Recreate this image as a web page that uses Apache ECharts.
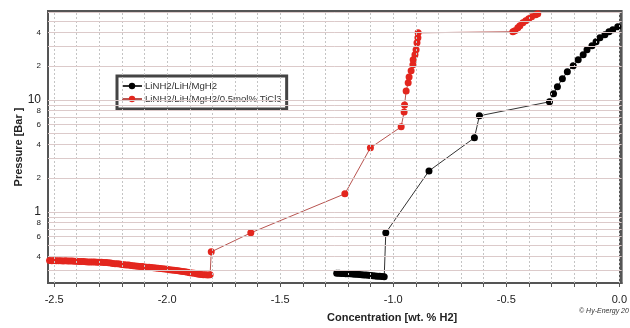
<!DOCTYPE html>
<html><head><meta charset="utf-8">
<script src="https://cdn.jsdelivr.net/npm/echarts@6/dist/echarts.min.js"></script>
<style>html,body{margin:0;padding:0;background:#fff}#c{width:630px;height:328px}</style>
</head><body><div id="c"></div>
<script>
// ---- data ----
const blackName = 'LiNH2/LiH/MgH2';
const redName = 'LiNH2/LiH/MgH2/0.5mol% TiCl3';
const blackConc = [-1.25,-1.24,-1.23,-1.22,-1.21,-1.20,-1.19,-1.18,-1.17,-1.16,-1.15,-1.14,-1.13,-1.12,-1.11,-1.10,-1.09,-1.08,-1.07,-1.06,-1.05,-1.04,
  -1.033,-0.842,-0.641,-0.619,-0.309,-0.291,-0.274,-0.252,-0.230,-0.204,-0.182,-0.160,-0.143,-0.121,-0.103,-0.086,-0.064,-0.046,-0.029,-0.007];
const blackPress = [0.283,0.283,0.282,0.282,0.281,0.280,0.280,0.279,0.278,0.277,0.276,0.275,0.274,0.273,0.272,0.270,0.269,0.268,0.267,0.266,0.265,0.264,
  0.65,2.32,4.58,7.2,9.6,11.3,13.1,15.4,17.8,20.1,22.8,25.2,27.9,30.4,33.0,35.8,38.0,40.5,42.2,44.9];
const redConc = [-2.52,-2.51,-2.50,-2.49,-2.48,-2.47,-2.46,-2.45,-2.44,-2.43,-2.42,-2.41,-2.40,-2.39,-2.38,-2.37,-2.36,-2.35,-2.34,-2.33,-2.32,-2.31,-2.30,-2.29,-2.28,-2.27,-2.26,-2.25,-2.24,-2.23,-2.22,-2.21,-2.20,-2.19,-2.18,-2.17,-2.16,-2.15,-2.14,-2.13,-2.12,-2.11,-2.10,-2.09,-2.08,-2.07,-2.06,-2.05,-2.04,-2.03,-2.02,-2.01,-2.00,-1.99,-1.98,-1.97,-1.96,-1.95,-1.94,-1.93,-1.92,-1.91,-1.90,-1.89,-1.88,-1.87,-1.86,-1.85,-1.84,-1.83,-1.82,-1.81,
  -1.805,-1.630,-1.214,-1.101,-0.965,-0.952,-0.950,-0.943,-0.934,-0.930,-0.921,-0.913,-0.912,-0.904,-0.899,-0.895,-0.891,-0.890,
  -0.471,-0.462,-0.449,-0.440,-0.427,-0.414,-0.401,-0.388,-0.370,-0.361];
const redPress = [0.368,0.367,0.368,0.366,0.367,0.366,0.365,0.366,0.365,0.365,0.364,0.363,0.363,0.361,0.361,0.360,0.359,0.358,0.358,0.357,0.357,0.356,0.355,0.355,0.354,0.354,0.352,0.349,0.347,0.345,0.344,0.342,0.340,0.338,0.336,0.335,0.333,0.331,0.329,0.327,0.326,0.325,0.323,0.321,0.320,0.319,0.317,0.316,0.314,0.312,0.311,0.309,0.307,0.305,0.303,0.301,0.300,0.298,0.296,0.294,0.292,0.289,0.287,0.285,0.283,0.280,0.277,0.276,0.275,0.275,0.274,0.275,
  0.44,0.65,1.45,3.73,5.74,7.8,9.0,12.0,14.2,16.0,18.2,20.5,22.8,25.2,27.9,32.3,35.8,39.6,
  40.5,41.3,44.0,45.8,48.7,50.7,52.9,55.1,57.4,58.6];
const xLabelValues = [-2.5,-2.0,-1.5,-1.0,-0.5,0.0];
const xTickValues = [-2.5,-2.4,-2.3,-2.2,-2.1,-2.0,-1.9,-1.8,-1.7,-1.6,-1.5,-1.4,-1.3,-1.2,-1.1,-1.0,-0.9,-0.8,-0.7,-0.6,-0.5,-0.4,-0.3,-0.2,-0.1,0.0];
const yLabelValues = [0.4,0.6,0.8,1,2,4,6,8,10,20,40];
const yLabelTexts  = ['4','6','8','1','2','4','6','8','10','2','4'];
const yTickValues = [0.3,0.4,0.5,0.6,0.7,0.8,0.9,1,2,3,4,5,6,7,8,9,10,20,30,40,50,60];

const zip = (a,b) => a.map((v,i)=>[v,b[i]]);
const chart = echarts.init(document.getElementById('c'), null, {renderer:'canvas'});
const FONT = '"Liberation Sans", Arial, sans-serif';

chart.setOption({
  animation:false,
  backgroundColor:'#fff',
  grid:{left:48,right:2,top:11,bottom:45,show:true,borderColor:'#555',borderWidth:2,backgroundColor:'transparent'},
  legend:{
    data:[blackName, redName], orient:'vertical', left:117, top:76,
    itemWidth:20, itemHeight:8, itemGap:3, padding:[5,5,5,4],
    backgroundColor:'#fff', borderColor:'#444', borderWidth:3, borderRadius:0,
    textStyle:{fontFamily:FONT,fontSize:9.6,color:'#333',padding:[0,0,0,-2]}
  },
  xAxis:{
    type:'value', min:-2.527, max:0.01,
    axisLine:{show:true,lineStyle:{color:'#555',width:2}},
    axisTick:{show:true,customValues:xTickValues,length:4,lineStyle:{color:'#555'}},
    axisLabel:{customValues:xLabelValues,margin:11,fontFamily:FONT,fontSize:11,color:'#222',
      formatter:v=>v.toFixed(1)},
    splitLine:{show:false}
  },
  yAxis:{
    type:'log', logBase:10, min:0.232, max:62,
    name:'Pressure [Bar ]', nameLocation:'middle', nameGap:24, nameMoveOverlap:false,
    nameTextStyle:{fontFamily:FONT,fontSize:11,fontWeight:'bold',color:'#222'},
    axisLine:{show:true,lineStyle:{color:'#555',width:2}},
    axisTick:{show:true,customValues:yTickValues,length:4,lineStyle:{color:'#555'}},
    axisLabel:{customValues:yLabelValues,margin:7,fontFamily:FONT,color:'#222',
      formatter:function(v){
        let bi=0,bd=1e9;
        yLabelValues.forEach((u,i)=>{const d=Math.abs(Math.log(u)-Math.log(v)); if(d<bd){bd=d;bi=i;}});
        const t=yLabelTexts[bi];
        return (t==='10'||t==='1') ? '{b|'+t+'}' : '{s|'+t+'}';
      },
      rich:{b:{fontSize:12,fontFamily:FONT,color:'#222'},s:{fontSize:8,fontFamily:FONT,color:'#222'}}
    },
    splitLine:{show:false}
  },
  graphic:[
    {type:'text',left:327,top:312,style:{text:'Concentration [wt. % H2]',font:'bold 11px '+FONT,fill:'#222'}},
    {type:'text',left:579,top:308,style:{text:'\u00A9 Hy-Energy 20',font:'italic 7px '+FONT,fill:'#333'}}
  ],
  series:[
    {type:'line',name:'grid',data:[],z:1,silent:true,
      markLine:{silent:true,symbol:'none',animation:false,label:{show:false},
        emphasis:{disabled:true},
        data:[
          ...xTickValues.map(v=>({xAxis:v,lineStyle:{color:'#c4c4c4',type:[2,2],width:1}})),
          ...yTickValues.map(v=>({yAxis:v,lineStyle:{color:'#dccaca',type:'solid',width:1}}))
        ]}},
    {type:'line',name:blackName,data:zip(blackConc,blackPress),z:3,
      symbol:'circle',symbolSize:7,showSymbol:true,
      itemStyle:{color:'#000'},lineStyle:{color:'#333',width:1}},
    {type:'line',name:redName,data:zip(redConc,redPress),z:4,
      symbol:'circle',symbolSize:7,showSymbol:true,
      itemStyle:{color:'#e3261e'},lineStyle:{color:'#b85450',width:1}}
  ]
});
</script></body></html>
